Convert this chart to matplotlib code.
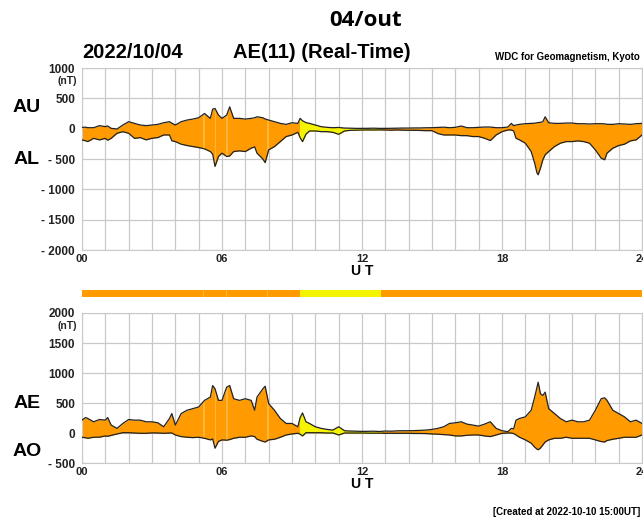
import matplotlib.pyplot as plt
from matplotlib.patches import Rectangle

# sample times (UT hours) and the four indices in nT
ut = [0.00, 0.15, 0.25, 0.50, 0.75, 1.00, 1.10, 1.25, 1.50, 1.75,
      2.00, 2.25, 2.50, 2.75, 3.00, 3.25, 3.50, 3.75, 3.85, 4.00,
      4.25, 4.50, 4.75, 5.00, 5.25, 5.50, 5.60, 5.70, 5.85, 6.00,
      6.20, 6.33, 6.50, 6.75, 7.00, 7.25, 7.40, 7.50, 7.75, 7.85,
      8.00, 8.25, 8.50, 8.75, 9.00, 9.25, 9.35, 9.45, 9.60, 9.75,
      10.00, 10.25, 10.50, 10.75, 11.00, 11.25, 11.50, 11.75, 12.00, 12.25,
      12.50, 12.75, 13.00, 13.25, 13.50, 13.75, 14.00, 14.25, 14.50, 14.75,
      15.00, 15.25, 15.50, 15.75, 16.00, 16.25, 16.50, 16.75, 17.00, 17.25,
      17.50, 17.75, 18.00, 18.25, 18.40, 18.50, 18.60, 18.75, 19.00, 19.25,
      19.40, 19.50, 19.55, 19.65, 19.75, 19.85, 20.00, 20.25, 20.50, 20.75,
      21.00, 21.25, 21.50, 21.75, 22.00, 22.25, 22.40, 22.50, 22.75, 23.00,
      23.25, 23.50, 23.75, 24.00]

au = [20, 25, 16, 16, 50, 33, 45, 5, -5, 60,
      115, 87, 60, 50, 60, 71, 98, 115, 90, 60,
      115, 142, 158, 180, 250, 170, 322, 333, 224, 170,
      224, 360, 170, 170, 158, 170, 180, 196, 180, 160,
      142, 115, 87, 71, 98, 87, 170, 130, 100, 87,
      60, 33, 22, 16, 20, 10, 8, 5, 5, 6,
      8, 5, 5, 6, 8, 10, 10, 12, 12, 15,
      16, 20, 25, 16, 22, 44, 16, 16, 22, 27,
      27, 16, 16, 27, 87, 50, 60, 71, 82, 87,
      90, 98, 100, 105, 115, 196, 98, 87, 87, 93,
      93, 82, 82, 77, 82, 82, 80, 71, 71, 82,
      77, 71, 82, 87]

al = [-185, -200, -213, -160, -185, -160, -190, -160, -76, -50,
      -76, -160, -147, -185, -158, -147, -104, -104, -200, -213,
      -256, -278, -295, -311, -333, -377, -420, -622, -459, -404,
      -459, -450, -377, -366, -377, -322, -300, -404, -500, -560,
      -350, -295, -213, -130, -104, -60, -150, -213, -90, -38,
      -38, -49, -49, -60, -93, -38, -27, -25, -22, -20,
      -22, -20, -22, -25, -22, -25, -27, -27, -30, -33,
      -33, -80, -104, -104, -104, -115, -115, -130, -130, -158,
      -196, -104, -49, -22, -22, -38, -158, -185, -240, -377,
      -568, -731, -760, -650, -513, -431, -377, -295, -240, -213,
      -213, -202, -213, -240, -350, -486, -513, -404, -322, -278,
      -256, -202, -185, -104]

ae = [214, 258, 242, 187, 225, 214, 258, 132, 77, 159,
      225, 214, 214, 187, 187, 170, 104, 242, 324, 132,
      324, 379, 406, 434, 544, 598, 791, 736, 544, 544,
      764, 791, 571, 544, 571, 544, 379, 598, 736, 780,
      489, 379, 242, 159, 159, 104, 258, 335, 187, 159,
      104, 77, 60, 49, 104, 38, 33, 30, 27, 28,
      30, 25, 33, 30, 36, 38, 38, 40, 44, 49,
      60, 77, 104, 159, 170, 187, 148, 132, 115, 148,
      187, 77, 38, 22, 77, 70, 214, 242, 269, 379,
      598, 764, 846, 653, 626, 681, 406, 324, 242, 187,
      214, 187, 187, 214, 379, 571, 587, 544, 379, 324,
      269, 187, 214, 159]

ao = [-71, -80, -88, -71, -70, -49, -55, -40, -16, 5,
      5, 0, -5, -5, 2, 0, -5, 0, 0, -33,
      -60, -71, -77, -71, -88, -115, -100, -253, -140, -115,
      -120, -110, -88, -71, -71, -49, -60, -104, -140, -150,
      -115, -104, -71, -33, -16, -5, -20, -49, 5, 5,
      5, 5, 0, 0, -33, 0, 0, 0, 0, -2,
      -3, -2, -5, -5, -5, -5, -5, -8, -8, -10,
      -16, -20, -27, -33, -49, -49, -38, -33, -33, -49,
      -60, -33, -5, 0, 0, -10, -33, -71, -115, -170,
      -236, -269, -280, -250, -200, -150, -115, -88, -88, -71,
      -88, -88, -88, -88, -115, -143, -150, -126, -104, -88,
      -71, -71, -71, -33]

few_stations = (9.35, 12.8)          # interval drawn in yellow
streaks = [5.19, 5.70, 6.21, 7.93]   # short light bands in the fill
hour_ticks = [0, 6, 12, 18, 24]
hour_labels = ["00", "06", "12", "18", "24"]

ORANGE = "#ff9a00"
YELLOW = "#f4f400"
LIGHT = "#ffb43a"
GRID = "#c9c9c9"
INK = "#222222"

plt.rcParams["font.family"] = ["Liberation Sans", "DejaVu Sans"]

W, H = 643, 524
fig = plt.figure(figsize=(W / 100, H / 100), dpi=100)


def box(x0, y0, x1, y1):
    return [x0 / W, 1 - y1 / H, (x1 - x0) / W, (y1 - y0) / H]


def px(x, y):
    return x / W, 1 - y / H


def panel(ax, upper, lower, ymin, ymax):
    ax.set_xlim(0, 24)
    ax.set_ylim(ymin, ymax)
    ax.fill_between(ut, lower, upper, color=ORANGE, lw=0, zorder=2)
    for h0, h1, col in [(few_stations[0], few_stations[1], YELLOW)] + \
            [(h - 0.02, h + 0.02, LIGHT) for h in streaks]:
        f = ax.fill_between(ut, lower, upper, color=col, lw=0, zorder=3)
        f.set_clip_path(Rectangle((h0, ymin), h1 - h0, ymax - ymin,
                                  transform=ax.transData))
    ax.plot(ut, upper, color=INK, lw=0.9, zorder=4)
    ax.plot(ut, lower, color=INK, lw=0.9, zorder=4)

    ax.set_xticks(hour_ticks)
    ax.set_xticklabels(hour_labels, fontsize=8, fontweight="bold", color=INK)
    ax.set_xticks(range(25), minor=True)
    yt = list(range(ymin, ymax + 1, 500))
    ax.set_yticks(yt)
    ax.set_yticklabels([("- %d" % -v) if v < 0 else str(v) for v in yt],
                       fontsize=8.5, fontweight="bold", color=INK)
    ax.tick_params(which="both", length=0)
    ax.tick_params(axis="y", pad=5)
    ax.tick_params(axis="x", pad=3)
    ax.grid(which="both", color=GRID, lw=0.9, zorder=1)
    for s in ax.spines.values():
        s.set_color(GRID)


ax1 = fig.add_axes(box(82, 68, 642, 250))
panel(ax1, au, al, -2000, 1000)

ax2 = fig.add_axes(box(82, 313, 642, 463))
panel(ax2, ae, ao, -500, 2000)

# colour strip between the panels
axc = fig.add_axes(box(82, 290, 642, 297))
axc.set_xlim(0, 24)
axc.axis("off")
axc.axvspan(0, 24, color=ORANGE, lw=0)
axc.axvspan(*few_stations, color=YELLOW, lw=0)
for h in streaks:
    axc.axvspan(h - 0.02, h + 0.02, color=LIGHT, lw=0)

# unit labels and side labels
for y in (81, 326):
    fig.text(*px(77, y), "(nT)", fontsize=7.5, fontweight="bold",
             color=INK, ha="right", va="center")
for name, y in [("AU", 107), ("AL", 159), ("AE", 404), ("AO", 452)]:
    fig.text(*px(27, y), name, fontsize=14, fontweight="bold",
             ha="center", va="center")
for y in (271, 484):
    fig.text(*px(362, y), "U T", fontsize=10, fontweight="bold",
             ha="center", va="center")

fig.text(*px(366, 20), "04/out", fontsize=16, fontweight="bold",
         family=["Open Sans", "DejaVu Sans"], ha="center", va="center")
fig.text(*px(82, 52), "2022/10/04", fontsize=14.5, fontweight="bold",
         ha="left", va="center")
fig.text(*px(233, 52), "AE(11) (Real-Time)", fontsize=14.5,
         fontweight="bold", ha="left", va="center")
fig.text(*px(640, 57), "WDC for Geomagnetism, Kyoto", fontsize=7,
         fontweight="bold", ha="right", va="center")
fig.text(*px(640, 512), "[Created at 2022-10-10 15:00UT]", fontsize=7,
         fontweight="bold", ha="right", va="center")

fig.savefig("out.png", dpi=100)
